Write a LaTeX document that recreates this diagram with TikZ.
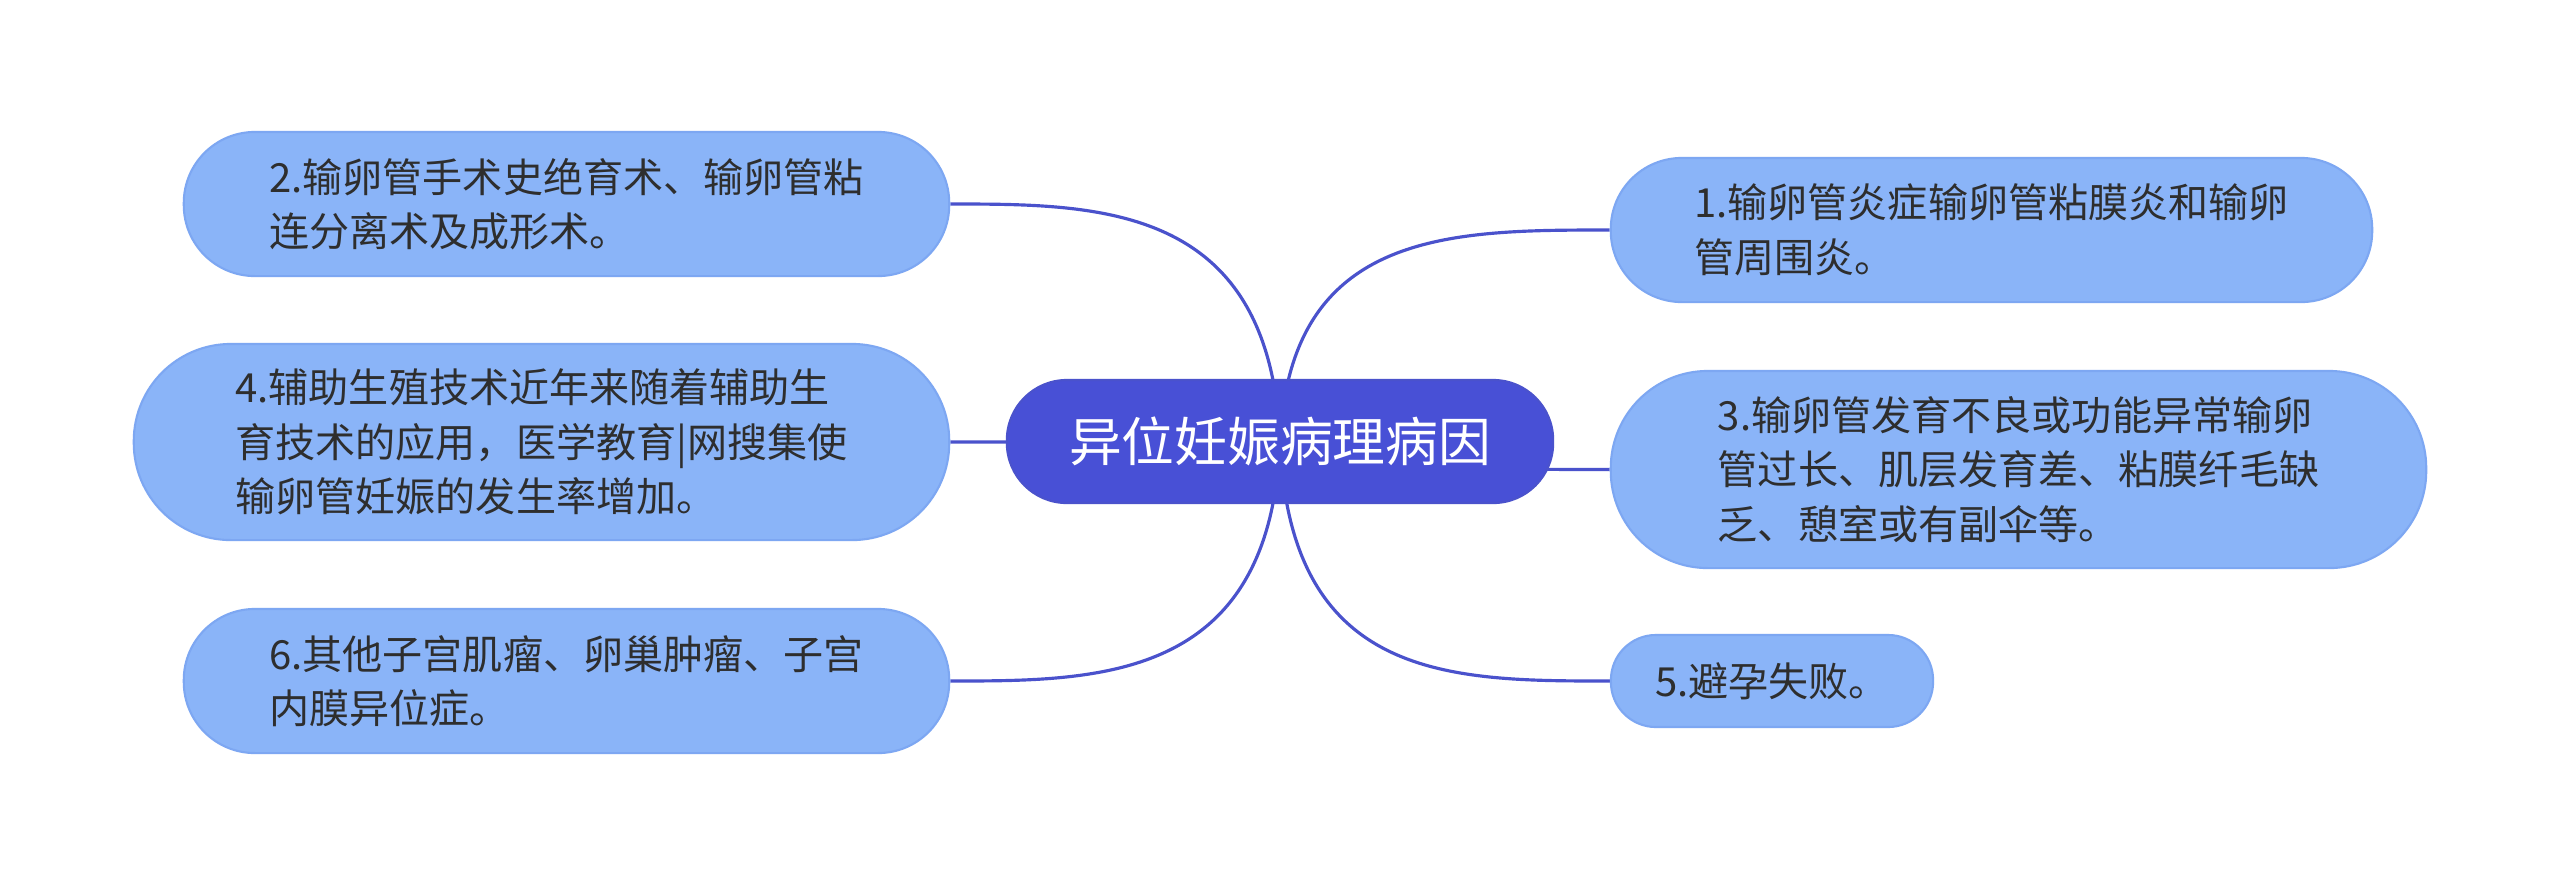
\documentclass[tikz,border=0pt]{standalone}
\usepackage{fontspec}
\setmainfont{Noto Sans CJK SC}
\definecolor{boxfill}{HTML}{8AB4F8}
\definecolor{boxline}{HTML}{7DA7F2}
\definecolor{mainfill}{HTML}{4850D6}
\definecolor{linkc}{HTML}{4A52CC}
\definecolor{txt}{HTML}{2E2E2E}
\pgfdeclarelayer{back}
\pgfdeclarelayer{bg}
\pgfsetlayers{back,bg,main}
\begin{document}
\begin{tikzpicture}[x=0.01cm,y=-0.01cm,
  leaf/.style={draw=boxline, line width=0.6pt, fill=boxfill, text=txt, align=left, inner sep=0pt,
    font=\fontsize{11.4pt}{15.5pt}\selectfont},
  root/.style={draw=linkc, line width=0.6pt, fill=mainfill, text=white, inner sep=0pt,
    font=\fontsize{15pt}{18pt}\selectfont},
  link/.style={draw=linkc, line width=0.9pt}]
\begin{pgfonlayer}{back}
\fill[white] (0,0) rectangle (2560,887);
\end{pgfonlayer}
\useasboundingbox (0,0) rectangle (2560,887);

\node[root, minimum width=5.46cm, minimum height=1.23cm, rounded corners=0.6cm] (c) at (1280,441.5) {异位妊娠病理病因};

\node[leaf, minimum width=7.65cm, minimum height=1.44cm, rounded corners=0.71cm] (n2) at (566.5,204)
  {2.输卵管手术史绝育术、输卵管粘\\连分离术及成形术。};
\node[leaf, minimum width=8.15cm, minimum height=1.96cm, rounded corners=0.97cm] (n4) at (541.5,442)
  {4.辅助生殖技术近年来随着辅助生\\育技术的应用，医学教育|网搜集使\\输卵管妊娠的发生率增加。};
\node[leaf, minimum width=7.65cm, minimum height=1.44cm, rounded corners=0.71cm] (n6) at (566.5,681)
  {6.其他子宫肌瘤、卵巢肿瘤、子宫\\内膜异位症。};
\node[leaf, minimum width=7.61cm, minimum height=1.44cm, rounded corners=0.71cm] (n1) at (1991.5,230)
  {1.输卵管炎症输卵管粘膜炎和输卵\\管周围炎。};
\node[leaf, minimum width=8.15cm, minimum height=1.97cm, rounded corners=0.97cm] (n3) at (2018.5,469.5)
  {3.输卵管发育不良或功能异常输卵\\管过长、肌层发育差、粘膜纤毛缺\\乏、憩室或有副伞等。};
\node[leaf, minimum width=3.22cm, minimum height=0.92cm, rounded corners=0.45cm] (n5) at (1772,681)
  {5.避孕失败。};

\begin{pgfonlayer}{bg}
\draw[link] (c.center) .. controls (1270,204) and (1100,204) .. (n2.east);
\draw[link] (c.center) -- (n4.east);
\draw[link] (c.center) .. controls (1270,681) and (1100,681) .. (n6.east);
\draw[link] (c.center) .. controls (1290,230) and (1450,230) .. (n1.west);
\draw[link] (c.center) .. controls (1380,469.5) and (1500,469.5) .. (n3.west);
\draw[link] (c.center) .. controls (1290,681) and (1450,681) .. (n5.west);
\end{pgfonlayer}
\end{tikzpicture}
\end{document}
